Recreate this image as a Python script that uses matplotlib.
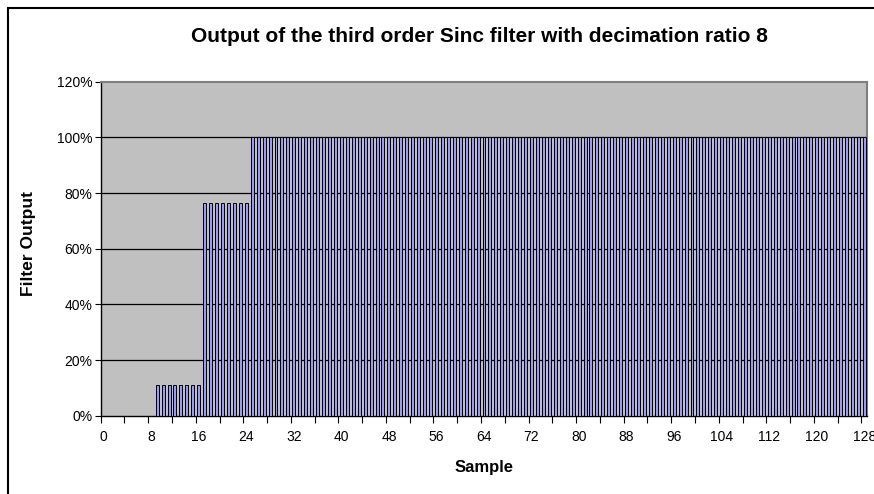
import matplotlib
matplotlib.use('Agg')
import matplotlib.pyplot as plt
from matplotlib.patches import Rectangle

plt.rcParams['font.family'] = ['Liberation Sans', 'DejaVu Sans']

# --- data ---
samples = list(range(129))
# step levels of the sinc^3 output (held for each sample)
filter_output = [0.0] * 9 + [0.109375] * 8 + [0.765625] * 8 + [1.0] * 104
x_tick_labels = [str(s) for s in range(0, 129, 8)]

W, H = 874, 494
fig = plt.figure(figsize=(W / 100, H / 100), dpi=100)

# chart area border (cropped at right/bottom like the original)
fig.patches.append(Rectangle((7.5 / W, -0.1), 1.2, 1 - 8 / H + 0.1, transform=fig.transFigure,
                             fill=False, edgecolor='black', linewidth=1.5))

left, right, top, bottom = 100.7, 867.3, 81.7, 415.7
ax = fig.add_axes([left / W, 1 - bottom / H, (right - left) / W, (bottom - top) / H])
ax.set_facecolor('#C0C0C0')

ax.bar(samples, filter_output, width=0.5, color='#9999FF', edgecolor='black',
       linewidth=0.7, zorder=3)

ax.set_xlim(-0.5, 128.5)
ax.set_ylim(0, 1.2)

# y axis
yt = [0, 0.2, 0.4, 0.6, 0.8, 1.0, 1.2]
ax.set_yticks(yt)
ax.set_yticklabels([f'{int(round(v * 100))}%' for v in yt], fontsize=10)
ax.tick_params(axis='y', length=4, width=0.8, pad=2)
for v in yt[1:-1]:
    ax.axhline(v, color='black', linewidth=0.9, zorder=2)

# x axis: tick marks every 4 samples between categories, labels every 8
ax.set_xticks([b - 0.5 for b in range(0, 129, 4)])
ax.set_xticklabels([])
ax.tick_params(axis='x', which='major', length=5, width=0.8)
ax.set_xticks(list(range(0, 129, 8)), minor=True)
ax.set_xticklabels(x_tick_labels, minor=True, fontsize=10)
ax.tick_params(axis='x', which='minor', length=0, pad=10)

for s in ['top', 'right']:
    ax.spines[s].set_color('#808080')
    ax.spines[s].set_linewidth(1.5)
for s in ['left', 'bottom']:
    ax.spines[s].set_color('black')
    ax.spines[s].set_linewidth(1.0)

fig.text(479 / W, 1 - 37 / H, 'Output of the third order Sinc filter with decimation ratio 8',
         ha='center', va='center', fontsize=15, fontweight='bold')
fig.text(29 / W, 1 - 243 / H, 'Filter Output', rotation=90, ha='center', va='center',
         fontsize=12.5, fontweight='bold')
fig.text(484 / W, 1 - 467 / H, 'Sample', ha='center', va='center',
         fontsize=12, fontweight='bold')

fig.savefig('out.png', dpi=100)
